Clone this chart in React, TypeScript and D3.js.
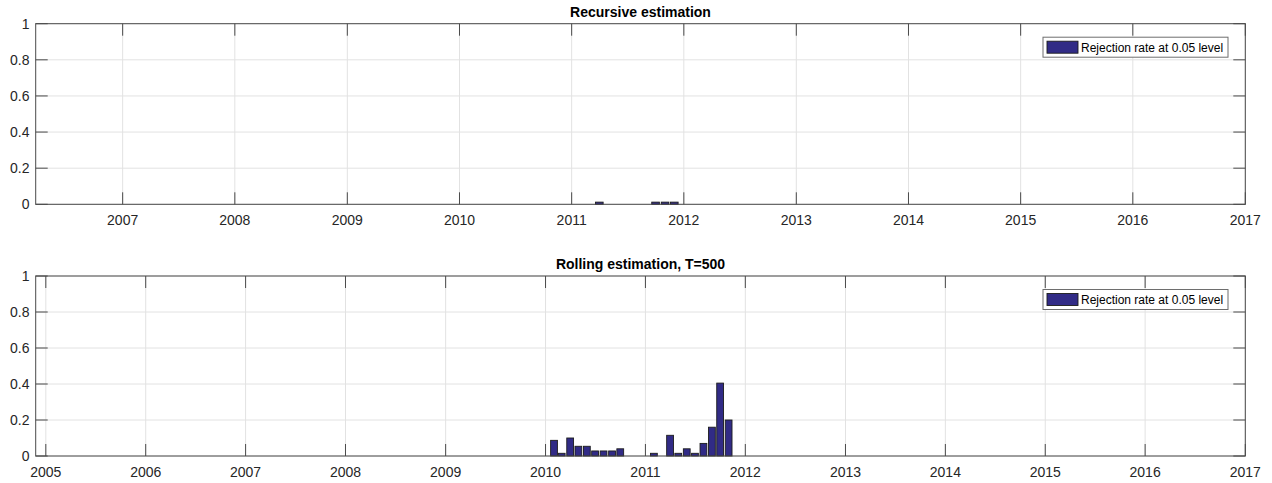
import React from "react";
import * as d3 from "d3";

// Monthly observation window shared by both panels
const firstMonth = "2006-04";
const lastMonth = "2016-12";

// Months with a non-zero rejection rate (all other months are 0)
const recursiveMonths = ["2011-04", "2011-10", "2011-11", "2011-12"];
const recursiveRates = [0.012, 0.012, 0.012, 0.012];

const rollingMonths = [
  "2010-02", "2010-03", "2010-04", "2010-05", "2010-06", "2010-07", "2010-08", "2010-09", "2010-10",
  "2011-02", "2011-04", "2011-05", "2011-06", "2011-07", "2011-08", "2011-09", "2011-10", "2011-11",
];
const rollingRates = [
  0.087, 0.015, 0.1, 0.054, 0.054, 0.028, 0.028, 0.028, 0.04,
  0.015, 0.115, 0.015, 0.04, 0.015, 0.07, 0.16, 0.405, 0.2,
];

const yTicks = [0, 0.2, 0.4, 0.6, 0.8, 1];
const yTickLabels = ["0", "0.2", "0.4", "0.6", "0.8", "1"];

const legendLabel = "Rejection rate at 0.05 level";

const W = 1272;
const H = 483;
const FONT = "'Liberation Sans', Arial, Helvetica, sans-serif";
const BAR_FILL = "#312b86";
const BAR_EDGE = "#1c1c1c";
const AXIS = "#4a4a4a";
const GRID = "#e2e2e2";

const parseMonth = d3.timeParse("%Y-%m");

function buildSeries(months: string[], rates: number[]) {
  const lookup = new Map<string, number>();
  months.forEach((m, i) => lookup.set(m, rates[i]));
  const start = parseMonth(firstMonth)!;
  const end = d3.timeMonth.offset(parseMonth(lastMonth)!, 1);
  return d3.timeMonth.range(start, end).map((date) => ({
    date,
    value: lookup.get(d3.timeFormat("%Y-%m")(date)) ?? 0,
  }));
}

type PanelProps = {
  title: string;
  months: string[];
  rates: number[];
  domain: [Date, Date];
  firstTickYear: number;
  top: number;
  bottom: number;
};

function Panel({ title, months, rates, domain, firstTickYear, top, bottom }: PanelProps) {
  const left = 35.7;
  const right = 1245.3;
  const data = buildSeries(months, rates);
  const x = d3.scaleTime().domain(domain).range([left, right]);
  const y = d3.scaleLinear().domain([0, 1]).range([bottom, top]);
  const xTicks = d3.timeYear.range(new Date(firstTickYear, 0, 1), new Date(2017, 0, 2));
  const monthPx = x(new Date(2011, 1, 1)) - x(new Date(2011, 0, 1));
  const bw = monthPx * 0.8;
  const tickLen = 12;

  const legX = 1043;
  const legY = top + 13.5;
  const legW = 185;
  const legH = 20;

  return (
    <g>
      <text
        x={(left + right) / 2}
        y={top - 7}
        textAnchor="middle"
        fontFamily={FONT}
        fontSize={14}
        fontWeight="bold"
        fill="#000"
      >
        {title}
      </text>
      {/* grid */}
      {xTicks.map((t, i) => (
        <line key={"gx" + i} x1={x(t)} x2={x(t)} y1={top} y2={bottom} stroke={GRID} strokeWidth={1} />
      ))}
      {yTicks.map((v, i) => (
        <line key={"gy" + i} x1={left} x2={right} y1={y(v)} y2={y(v)} stroke={GRID} strokeWidth={1} />
      ))}
      {/* bars */}
      {data.map((d, i) => (
        <rect
          key={"b" + i}
          x={x(d.date) - bw / 2}
          y={y(d.value)}
          width={bw}
          height={Math.max(0, y(0) - y(d.value))}
          fill={BAR_FILL}
          stroke={BAR_EDGE}
          strokeWidth={0.9}
        />
      ))}
      {/* axes box */}
      <rect x={left} y={top} width={right - left} height={bottom - top} fill="none" stroke={AXIS} strokeWidth={1} />
      {/* ticks */}
      {xTicks.map((t, i) => (
        <g key={"xt" + i}>
          <line x1={x(t)} x2={x(t)} y1={bottom} y2={bottom - tickLen} stroke={AXIS} />
          <line x1={x(t)} x2={x(t)} y1={top} y2={top + tickLen} stroke={AXIS} />
          <text
            x={x(t)}
            y={bottom + 21}
            textAnchor="middle"
            fontFamily={FONT}
            fontSize={14}
            fill="#262626"
          >
            {d3.timeFormat("%Y")(t)}
          </text>
        </g>
      ))}
      {yTicks.map((v, i) => (
        <g key={"yt" + i}>
          <line x1={left} x2={left + tickLen} y1={y(v)} y2={y(v)} stroke={AXIS} />
          <line x1={right} x2={right - tickLen} y1={y(v)} y2={y(v)} stroke={AXIS} />
          <text
            x={29.5}
            y={y(v) + 5}
            textAnchor="end"
            fontFamily={FONT}
            fontSize={14}
            fill="#262626"
          >
            {yTickLabels[i]}
          </text>
        </g>
      ))}
      {/* legend */}
      <rect x={legX} y={legY} width={legW} height={legH} fill="#fff" stroke="#6e6e6e" strokeWidth={1} />
      <rect x={legX + 4} y={legY + 4} width={31} height={12} fill={BAR_FILL} stroke={BAR_EDGE} strokeWidth={0.9} />
      <text x={legX + 38} y={legY + 14.5} fontFamily={FONT} fontSize={12} fill="#000">
        {legendLabel}
      </text>
    </g>
  );
}

export default function App() {
  return (
    <svg
      width={W}
      height={H}
      style={{ position: "absolute", left: 0, top: 0, background: "#fff" }}
    >
      <rect width={W} height={H} fill="#fff" />
      <Panel
        title="Recursive estimation"
        months={recursiveMonths}
        rates={recursiveRates}
        domain={[new Date(2006, 2, 24), new Date(2017, 0, 1)]}
        firstTickYear={2007}
        top={23.7}
        bottom={204.3}
      />
      <Panel
        title="Rolling estimation, T=500"
        months={rollingMonths}
        rates={rollingRates}
        domain={[new Date(2004, 10, 25), new Date(2017, 0, 1)]}
        firstTickYear={2005}
        top={276}
        bottom={456}
      />
    </svg>
  );
}
